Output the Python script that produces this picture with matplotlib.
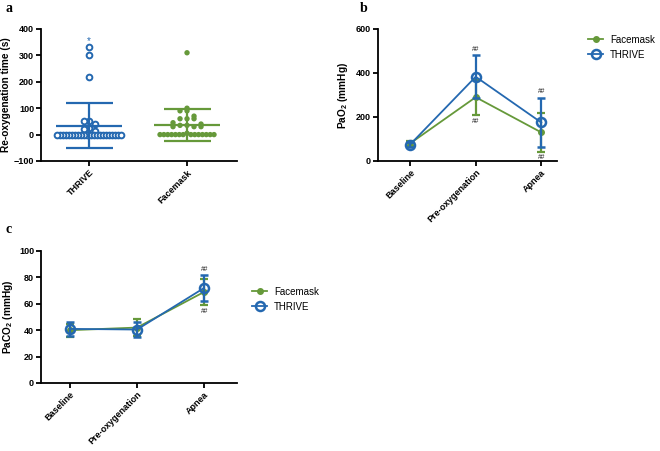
import numpy as np
import matplotlib
matplotlib.use("Agg")
import matplotlib.pyplot as plt
from matplotlib.lines import Line2D

plt.rcParams['font.family'] = ['Liberation Sans', 'DejaVu Sans']
plt.rcParams['mathtext.fontset'] = 'custom'
plt.rcParams['mathtext.rm'] = 'Liberation Sans:bold'
plt.rcParams['mathtext.bf'] = 'Liberation Sans:bold'

BLUE = '#2468b0'
GREEN = '#66993a'

# ---- Panel a data ----
groups_a = ['THRIVE', 'Facemask']
thrive_reox = [330, 300, 220, 50, 50, 40, 25, 20, 15] + [0] * 22
facemask_reox = [310, 100, 90, 90, 70, 60, 60, 60, 45, 40, 35, 35, 30, 30, 30, 5] + [0] * 14

# ---- Panels b, c data ----
timepoints = ['Baseline', 'Pre-oxygenation', 'Apnea']
fm_pao2 = [80, 290, 130]
fm_pao2_sd = [10, 80, 87]
th_pao2 = [75, 383, 175]
th_pao2_sd = [10, 97, 112]
sig_pao2 = [False, True, True]
fm_paco2 = [40, 42, 69]
fm_paco2_sd = [5, 6.2, 10]
th_paco2 = [41, 40.5, 72]
th_paco2_sd = [5.3, 5.8, 9.5]
sig_paco2 = [False, False, True]

fig = plt.figure(figsize=(6.6, 4.51), dpi=100)

def style(ax):
    for s in ['top', 'right']:
        ax.spines[s].set_visible(False)
    for s in ['left', 'bottom']:
        ax.spines[s].set_linewidth(1.3)
    ax.tick_params(axis='both', width=1.3, length=3.5, labelsize=6.5, pad=1.5)
    for lab in ax.get_yticklabels() + ax.get_xticklabels():
        lab.set_fontweight('bold')

def binned_swarm(values, d_px, px_per_y, max_half_px):
    """Spread points horizontally within vertical bins of d_px pixels."""
    vals = np.asarray(values, float)
    bins = np.round(vals * px_per_y / d_px).astype(int)
    xs = np.zeros(len(vals))
    for b in np.unique(bins):
        idx = np.where(bins == b)[0]
        idx = idx[np.argsort(-vals[idx], kind='stable')]
        n = len(idx)
        offs = (np.arange(n) - (n - 1) / 2.0) * d_px
        order = np.argsort(np.abs(offs), kind='stable')
        half = (n - 1) / 2.0 * d_px
        scale = min(1.0, max_half_px / half) if half > 0 else 1.0
        xs[idx] = offs[order] * scale
    return xs

# ---- Panel a ----
axa = fig.add_axes([41/660, 1-161/451, 196/660, 132/451])
xlim_a = (-0.49, 1.51)
ylim_a = (-100, 400)
axa.set_xlim(*xlim_a)
axa.set_ylim(*ylim_a)
px_per_x = 196 / (xlim_a[1] - xlim_a[0])
px_per_y = 132 / (ylim_a[1] - ylim_a[0])
for gi, (vals, col, filled, d, w) in enumerate([(thrive_reox, BLUE, False, 5.5, 32),
                                                 (facemask_reox, GREEN, True, 7.0, 27)]):
    offs = binned_swarm(vals, d, px_per_y, w) / px_per_x
    if filled:
        axa.scatter(gi + offs, vals, s=15, color=col, edgecolors='none', zorder=3)
    else:
        axa.scatter(gi + offs, vals, s=17, facecolors='white', edgecolors=col, linewidths=1.4, zorder=3)
    m = np.mean(vals)
    sd = np.std(vals, ddof=1)
    axa.hlines(m, gi - 0.34, gi + 0.34, color=col, lw=1.6, zorder=4)
    axa.vlines(gi, m - sd, m + sd, color=col, lw=1.6, zorder=4)
    axa.hlines([m - sd, m + sd], gi - 0.24, gi + 0.24, color=col, lw=1.6, zorder=4)
axa.annotate('*', (0, max(thrive_reox)), xytext=(0, 1), textcoords='offset points',
             color=BLUE, ha='center', va='bottom', fontsize=7)
axa.set_xticks(range(len(groups_a)))
axa.set_xticklabels(groups_a, rotation=45, ha='right', rotation_mode='anchor')
axa.set_yticks([-100, 0, 100, 200, 300, 400])
axa.set_ylabel('Re-oxygenation time (s)', fontsize=7.3, fontweight='bold', labelpad=2)
style(axa)

def line_panel(ax, fm, fm_sd, th, th_sd, sig, legend_anchor):
    x = np.arange(len(timepoints))
    ax.errorbar(x, fm, yerr=fm_sd, color=GREEN, lw=1.3, elinewidth=1.6, capsize=2.6,
                capthick=1.6, marker='o', ms=4, mfc=GREEN, mec=GREEN, zorder=3)
    ax.errorbar(x, th, yerr=th_sd, color=BLUE, lw=1.3, elinewidth=1.6, capsize=2.6,
                capthick=1.6, marker='o', ms=6.5, mfc='none', mec=BLUE, mew=1.8, zorder=4)
    for i in range(len(x)):
        if not sig[i]:
            continue
        ax.annotate('##', (x[i], th[i] + th_sd[i]), xytext=(0, 2), textcoords='offset points',
                    ha='center', va='bottom', fontsize=4.8, color='#222222')
        ax.annotate('##', (x[i], fm[i] - fm_sd[i]), xytext=(0, -2), textcoords='offset points',
                    ha='center', va='top', fontsize=4.8, color='#222222')
    ax.set_xticks(x)
    ax.set_xticklabels(timepoints, rotation=45, ha='right', rotation_mode='anchor')
    h = [Line2D([], [], color=GREEN, lw=1.3, marker='o', ms=4, mfc=GREEN, mec=GREEN),
         Line2D([], [], color=BLUE, lw=1.3, marker='o', ms=6.5, mfc='none', mec=BLUE, mew=1.8)]
    fig.legend(h, ['Facemask', 'THRIVE'], loc='upper left', bbox_to_anchor=legend_anchor,
               frameon=False, fontsize=7, handlelength=1.6, labelspacing=0.5,
               handletextpad=0.7, borderaxespad=0, borderpad=0.4)

# ---- Panel b ----
axb = fig.add_axes([378/660, 1-161/451, 179/660, 132/451])
axb.set_xlim(-0.49, 2.24)
axb.set_ylim(0, 600)
line_panel(axb, fm_pao2, fm_pao2_sd, th_pao2, th_pao2_sd, sig_pao2, (584/660, 1-31/451))
axb.set_yticks([0, 200, 400, 600])
axb.set_ylabel(r'PaO$_2$ (mmHg)', fontsize=7.3, fontweight='bold', labelpad=4)
style(axb)

# ---- Panel c ----
axc = fig.add_axes([41/660, 1-383/451, 196/660, 132/451])
axc.set_xlim(-0.43, 2.49)
axc.set_ylim(0, 100)
line_panel(axc, fm_paco2, fm_paco2_sd, th_paco2, th_paco2_sd, sig_paco2, (248/660, 1-283/451))
axc.set_yticks([0, 20, 40, 60, 80, 100])
axc.set_ylabel(r'PaCO$_2$ (mmHg)', fontsize=7.3, fontweight='bold', labelpad=3)
style(axc)

for lab, (x, y) in zip(['a', 'b', 'c'], [(5, 9), (360, 9), (5, 229)]):
    fig.text(x/660, 1-y/451, lab, fontsize=10, fontweight='bold',
             family=['Liberation Serif', 'DejaVu Serif'], va='center', ha='left')

fig.savefig('out.png', dpi=100)
